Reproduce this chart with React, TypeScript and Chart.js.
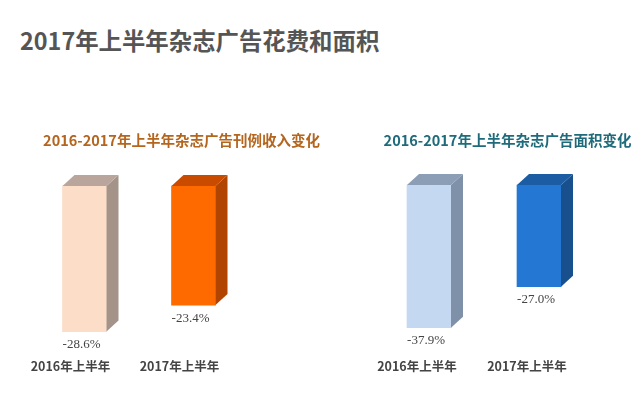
import React, { useEffect, useRef } from "react";
import { Chart, registerables } from "chart.js";

Chart.register(...registerables);

// ---- data ----
const mainTitle = "2017年上半年杂志广告花费和面积";
const categories = ["2016年上半年", "2017年上半年"];
const revenueTitle = "2016-2017年上半年杂志广告刊例收入变化";
const revenueValues = [-28.6, -23.4];
const areaTitle = "2016-2017年上半年杂志广告面积变化";
const areaValues = [-37.9, -27.0];

// ---- styles ----
const revenueFront = ["#FCDDC8", "#FF6A00"];
const revenueTop = ["#B9A59B", "#C84B00"];
const revenueSide = ["#A49388", "#B04400"];
const areaFront = ["#C4D8F2", "#2478D4"];
const areaTop = ["#8C9DB6", "#1B5CA2"];
const areaSide = ["#7F90A9", "#18508E"];

const CJK = '"Noto Sans CJK SC", "Noto Sans", sans-serif';

const cubePlugin = {
  id: "cube3d",
  afterDatasetsDraw(chart: any, _args: any, opts: any) {
    const ctx = chart.ctx;
    const meta = chart.getDatasetMeta(0);
    const ds = chart.data.datasets[0];
    const dx = 12;
    const dy = 11;
    ctx.save();
    meta.data.forEach((bar: any, i: number) => {
      const p = bar.getProps(["x", "y", "base", "width"], true);
      const l = p.x - p.width / 2;
      const r = p.x + p.width / 2;
      const top = Math.min(p.y, p.base);
      const bottom = Math.max(p.y, p.base);
      // side face
      ctx.fillStyle = opts.side[i];
      ctx.beginPath();
      ctx.moveTo(r, top);
      ctx.lineTo(r + dx, top - dy);
      ctx.lineTo(r + dx, bottom - dy);
      ctx.lineTo(r, bottom);
      ctx.closePath();
      ctx.fill();
      // top face
      ctx.fillStyle = opts.top[i];
      ctx.beginPath();
      ctx.moveTo(l, top);
      ctx.lineTo(l + dx, top - dy);
      ctx.lineTo(r + dx, top - dy);
      ctx.lineTo(r, top);
      ctx.closePath();
      ctx.fill();
      // value label
      const v = ds.data[i] as number;
      ctx.fillStyle = "#444";
      ctx.font = '13px "Liberation Serif", "DejaVu Serif", serif';
      ctx.textAlign = "center";
      ctx.textBaseline = "middle";
      ctx.fillText(v.toFixed(1) + "%", p.x - 3, bottom + 13);
    });
    ctx.restore();
  },
};

function makeConfig(
  title: string,
  titleColor: string,
  values: number[],
  front: string[],
  top: string[],
  side: string[],
  yMin: number,
  padTitleBottom: number,
  padLeft: number,
  padRight: number,
  rightAxisWidth: number,
  labelOffset: number
): any {
  return {
    type: "bar",
    data: {
      labels: categories,
      datasets: [
        {
          data: values,
          backgroundColor: front,
          borderWidth: 0,
          barThickness: 44,
          clip: false,
        },
      ],
    },
    plugins: [cubePlugin],
    options: {
      animation: false,
      responsive: false,
      maintainAspectRatio: false,
      layout: { padding: { left: padLeft, right: padRight, top: 0, bottom: 8.5 } },
      plugins: {
        legend: { display: false },
        tooltip: { enabled: false },
        title: {
          display: true,
          text: title,
          color: titleColor,
          font: { family: CJK, size: 14.5, weight: "bold", lineHeight: 1.2 },
          padding: { top: 31.3, bottom: padTitleBottom },
        },
        cube3d: { top, side },
      },
      scales: {
        x: {
          grid: { display: false, drawTicks: false, tickLength: 0 },
          border: { display: false },
          ticks: {
            color: "#444",
            padding: 10,
            labelOffset,
            font: { family: CJK, size: 12.5, weight: "bold", lineHeight: 1.25 },
          },
        },
        y: {
          position: "right",
          min: yMin,
          max: 0,
          grid: { display: false },
          border: { display: false },
          ticks: { display: false },
          afterFit: (s: any) => {
            s.width = rightAxisWidth;
          },
        },
      },
    },
  };
}

export default function App() {
  const leftRef = useRef<HTMLCanvasElement>(null);
  const rightRef = useRef<HTMLCanvasElement>(null);

  useEffect(() => {
    const left = new Chart(
      leftRef.current as HTMLCanvasElement,
      makeConfig(revenueTitle, "#B4651E", revenueValues, revenueFront, revenueTop, revenueSide, -32, 37.3, 30, 7, 85, -14)
    );
    const right = new Chart(
      rightRef.current as HTMLCanvasElement,
      makeConfig(areaTitle, "#1F6B7B", areaValues, areaFront, areaTop, areaSide, -43.5, 36.3, 34, 0, 47, -12)
    );
    return () => {
      left.destroy();
      right.destroy();
    };
  }, []);

  return (
    <div
      style={{
        position: "fixed",
        left: 0,
        top: 0,
        width: 641,
        height: 393,
        background: "#ffffff",
        overflow: "hidden",
      }}
    >
      <div
        style={{
          position: "absolute",
          left: 20,
          top: 25,
          fontFamily: CJK,
          fontWeight: "bold",
          fontSize: 23.4,
          lineHeight: "30px",
          color: "#555555",
          whiteSpace: "nowrap",
        }}
      >
        {mainTitle}
      </div>
      <canvas
        ref={leftRef}
        width={340}
        height={293}
        style={{ position: "absolute", left: 0, top: 100, width: 340, height: 293 }}
      />
      <canvas
        ref={rightRef}
        width={301}
        height={293}
        style={{ position: "absolute", left: 340, top: 100, width: 301, height: 293 }}
      />
    </div>
  );
}
